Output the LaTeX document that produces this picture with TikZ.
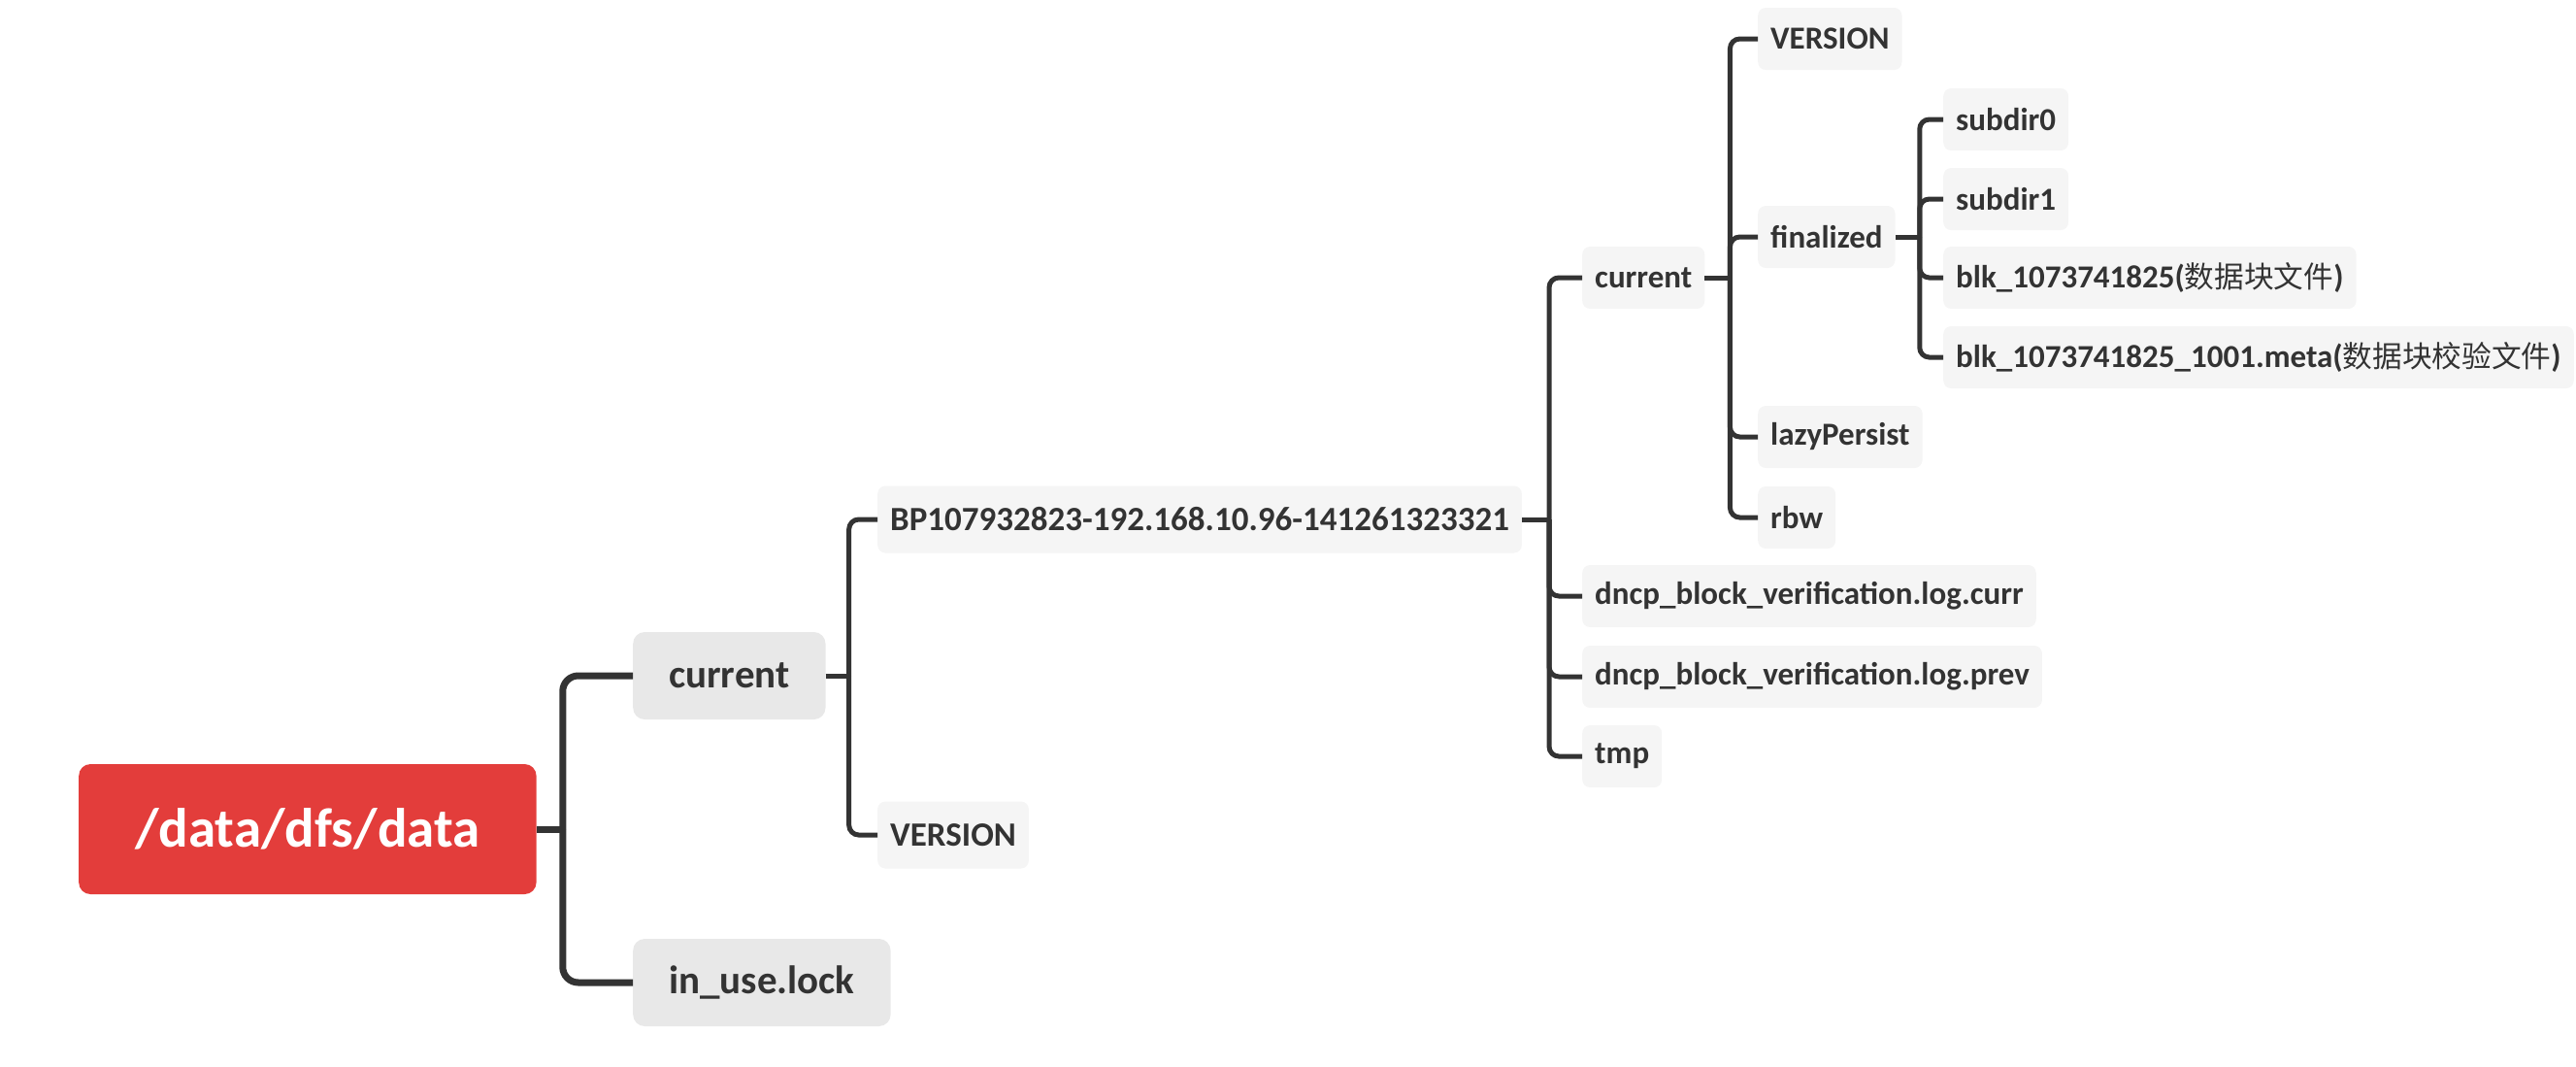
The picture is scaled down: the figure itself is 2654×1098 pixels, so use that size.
\documentclass[tikz,border=0pt]{standalone}
\usepackage{fontspec}
\setmainfont{Carlito}
\newfontfamily\cjk[Scale=0.93]{Noto Sans CJK SC}
\definecolor{rootred}{HTML}{E33D3B}
\definecolor{branch}{HTML}{E8E8E8}
\definecolor{leaf}{HTML}{F5F5F5}
\definecolor{ink}{HTML}{333333}
\begin{document}
\begin{tikzpicture}[
    x=1pt, y=-1pt,
    leafbox/.style={anchor=west, rounded corners=8pt, fill=leaf, text=ink, inner xsep=13pt,
        minimum height=64pt, font=\fontsize{33}{40}\selectfont\bfseries},
    midbox/.style={leafbox, minimum height=69pt, font=\fontsize{35}{42}\selectfont\bfseries},
    branchbox/.style={leafbox, fill=branch, rounded corners=12pt, inner xsep=37pt,
        minimum height=90pt, font=\fontsize{41}{48}\selectfont\bfseries},
    rootbox/.style={anchor=west, fill=rootred, text=white, rounded corners=12pt, inner xsep=58pt,
        minimum height=134pt, font=\fontsize{57}{66}\selectfont\bfseries},
    link/.style={draw=ink, line width=5pt, rounded corners=10pt},
    rootlink/.style={link, line width=7pt, rounded corners=16pt},
]
\useasboundingbox (0,0) rectangle (2654,1098);

% Root
\node[rootbox] (root) at (81, 854) {/data/dfs/data};

% First level
\node[branchbox] (cur) at (652, 696) {current};
\node[branchbox] (lock) at (652, 1012) {in\_use.lock};

% Second level
\node[midbox] (bp) at (904, 535) {BP107932823-192.168.10.96-141261323321};
\node[midbox] (ver) at (904, 860) {VERSION};

% Block pool contents
\node[leafbox] (bpcur) at (1630, 286) {current};
\node[leafbox] (logcurr) at (1630, 614) {dncp\_block\_verification.log.curr};
\node[leafbox] (logprev) at (1630, 697) {dncp\_block\_verification.log.prev};
\node[leafbox] (tmp) at (1630, 779) {tmp};

% current of the block pool
\node[leafbox] (bpver) at (1811, 40) {VERSION};
\node[leafbox] (fin) at (1811, 244) {finalized};
\node[leafbox] (lazy) at (1811, 450) {lazyPersist};
\node[leafbox] (rbw) at (1811, 533) {rbw};

% finalized
\node[leafbox] (sub0) at (2002, 123) {subdir0};
\node[leafbox] (sub1) at (2002, 205) {subdir1};
\node[leafbox] (blk) at (2002, 286) {blk\_1073741825({\cjk\mdseries 数据块文件})};
\node[leafbox] (meta) at (2002, 368) {blk\_1073741825\_1001.meta({\cjk\mdseries 数据块校验文件})};

% Connectors: stub from the parent, then one elbow per child
\draw[rootlink] (root.east) -- ++(27,0);
\draw[rootlink] ([xshift=27pt]root.east) |- (cur.west);
\draw[rootlink] ([xshift=27pt]root.east) |- (lock.west);

\draw[link] (cur.east) -- ++(24,0);
\draw[link] ([xshift=24pt]cur.east) |- (bp.west);
\draw[link] ([xshift=24pt]cur.east) |- (ver.west);

\draw[link] (bp.east) -- ++(28,0);
\draw[link] ([xshift=28pt]bp.east) |- (bpcur.west);
\draw[link] ([xshift=28pt]bp.east) |- (logcurr.west);
\draw[link] ([xshift=28pt]bp.east) |- (logprev.west);
\draw[link] ([xshift=28pt]bp.east) |- (tmp.west);

\draw[link] (bpcur.east) -- ++(26,0);
\draw[link] ([xshift=26pt]bpcur.east) |- (bpver.west);
\draw[link] ([xshift=26pt]bpcur.east) |- (fin.west);
\draw[link] ([xshift=26pt]bpcur.east) |- (lazy.west);
\draw[link] ([xshift=26pt]bpcur.east) |- (rbw.west);

\draw[link] (fin.east) -- ++(25,0);
\draw[link] ([xshift=25pt]fin.east) |- (sub0.west);
\draw[link] ([xshift=25pt]fin.east) |- (sub1.west);
\draw[link] ([xshift=25pt]fin.east) |- (blk.west);
\draw[link] ([xshift=25pt]fin.east) |- (meta.west);
\end{tikzpicture}
\end{document}
